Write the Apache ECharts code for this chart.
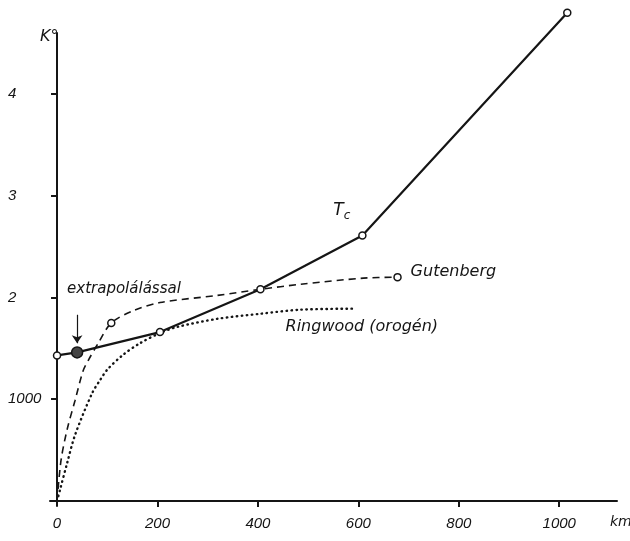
<!DOCTYPE html>
<html>
<head>
<meta charset="utf-8">
<script src="https://cdn.jsdelivr.net/npm/echarts@6/dist/echarts.min.js"></script>
<style>
  html, body { margin: 0; background: #fff; }
  #chart { width: 630px; height: 541px; }
</style>
</head>
<body>
<div id="chart"></div>
<script>
(() => {
  // depth in km, temperature in 1000 K
  const tcKm = [0, 40, 205, 405, 608, 1016];
  const tcK = [1.43, 1.46, 1.66, 2.08, 2.61, 4.8];

  const gutKm = [0, 8, 20, 36, 52, 62, 82, 108, 152, 205, 319, 405, 485, 610, 678];
  const gutK = [0, 0.4, 0.7, 0.99, 1.28, 1.38, 1.55, 1.75, 1.87, 1.95, 2.02, 2.08, 2.13, 2.19, 2.2];
  const gutCircles = [108, 678];

  const ringKm = [0, 6, 20, 36, 70, 86, 100, 130, 165, 205, 239, 319, 405, 485, 590];
  const ringK = [0, 0.11, 0.37, 0.65, 1.06, 1.19, 1.29, 1.43, 1.55, 1.65, 1.71, 1.79, 1.84, 1.88, 1.89];

  const xTicks = [0, 200, 400, 600, 800, 1000];
  const yTicks = [1, 2, 3, 4];
  const extrapolatedKm = 40;

  const ink = "#151515";
  const font = "Liberation Sans";
  const noteFont = "DejaVu Sans";

  const chart = echarts.init(document.getElementById("chart"), null, { renderer: "canvas" });

  const pairs = (xs, ys) => xs.map((x, i) => [x, ys[i]]);

  const tcData = pairs(tcKm, tcK).map((p) => {
    if (p[0] === extrapolatedKm) {
      return { value: p, symbolSize: 11, itemStyle: { color: "#444", borderColor: ink, borderWidth: 1.5 } };
    }
    return { value: p };
  });

  const gutData = pairs(gutKm, gutK).map((p) => ({
    value: p,
    symbol: gutCircles.includes(p[0]) ? "circle" : "none"
  }));

  const option = {
    animation: false,
    backgroundColor: "#fff",
    grid: { left: 50, right: 13, top: 33, bottom: 35 },
    xAxis: {
      type: "value",
      min: -14,
      max: 1115,
      splitLine: { show: false },
      axisLine: { onZero: true, lineStyle: { color: ink, width: 2 } },
      axisTick: { customValues: xTicks.slice(1), length: 6, lineStyle: { color: ink, width: 2 } },
      axisLabel: {
        customValues: xTicks,
        margin: 10,
        color: ink,
        fontFamily: font,
        fontStyle: "italic",
        fontSize: 15,
        formatter: (v) => String(v)
      }
    },
    yAxis: {
      type: "value",
      min: -0.05,
      max: 4.6,
      splitLine: { show: false },
      axisLine: { onZero: true, lineStyle: { color: ink, width: 2 } },
      axisTick: { customValues: yTicks, length: 6, lineStyle: { color: ink, width: 2 } },
      axisLabel: {
        customValues: yTicks,
        align: "left",
        margin: 42,
        color: ink,
        fontFamily: font,
        fontStyle: "italic",
        fontSize: 15,
        formatter: (v) => (v === 1 ? "1000" : String(v))
      }
    },
    series: [
      {
        name: "Ringwood (orogén)",
        type: "line",
        data: pairs(ringKm, ringK),
        smooth: 0.3,
        symbol: "none",
        lineStyle: { color: ink, width: 2.4, type: [0.5, 4.5], cap: "round" }
      },
      {
        name: "Gutenberg",
        type: "line",
        data: gutData,
        smooth: 0.3,
        symbolSize: 7,
        itemStyle: { color: "#fff", borderColor: ink, borderWidth: 1.5 },
        lineStyle: { color: ink, width: 1.6, type: [7, 5] }
      },
      {
        name: "Tc",
        type: "line",
        data: tcData,
        clip: false,
        symbol: "circle",
        symbolSize: 7,
        itemStyle: { color: "#fff", borderColor: ink, borderWidth: 1.5 },
        lineStyle: { color: ink, width: 2.2 },
        markLine: {
          silent: true,
          symbol: ["none", "arrow"],
          symbolSize: 8,
          label: { show: false },
          lineStyle: { color: ink, width: 1.2, type: "solid" },
          data: [[{ coord: [extrapolatedKm, 1.83] }, { coord: [extrapolatedKm, 1.55] }]]
        }
      }
    ]
  };

  chart.setOption(option);

  // annotations placed through the axes' scales
  const notes = [
    { text: "extrapolálással", at: [20, 2.08], size: 15 },
    { text: "Gutenberg", at: [704, 2.25], size: 16 },
    { text: "Ringwood (orogén)", at: [455, 1.71], size: 16 },
    { text: "{t|T}{c|c}", at: [550, 2.85], size: 16 }
  ];

  const graphic = notes.map((n) => {
    const [px, py] = chart.convertToPixel({ gridIndex: 0 }, n.at);
    return {
      type: "text",
      x: px,
      y: py,
      silent: true,
      style: {
        text: n.text,
        fill: ink,
        font: `oblique ${n.size}px "${noteFont}"`,
        verticalAlign: "middle",
        rich: {
          t: { fontSize: 17, fontStyle: "oblique", fontFamily: noteFont, fill: ink },
          c: { fontSize: 12, fontStyle: "oblique", fontFamily: noteFont, fill: ink, padding: [10, 0, 0, 0] }
        }
      }
    };
  });

  graphic.push(
    { type: "text", x: 40, y: 37, silent: true,
      style: { text: "K°", fill: ink, font: `oblique 16px "${noteFont}"`, verticalAlign: "middle" } },
    { type: "text", x: 610, y: 522, silent: true,
      style: { text: "km", fill: ink, font: `oblique 14px "${noteFont}"`, verticalAlign: "middle" } }
  );

  chart.setOption({ graphic });
})();
</script>
</body>
</html>
